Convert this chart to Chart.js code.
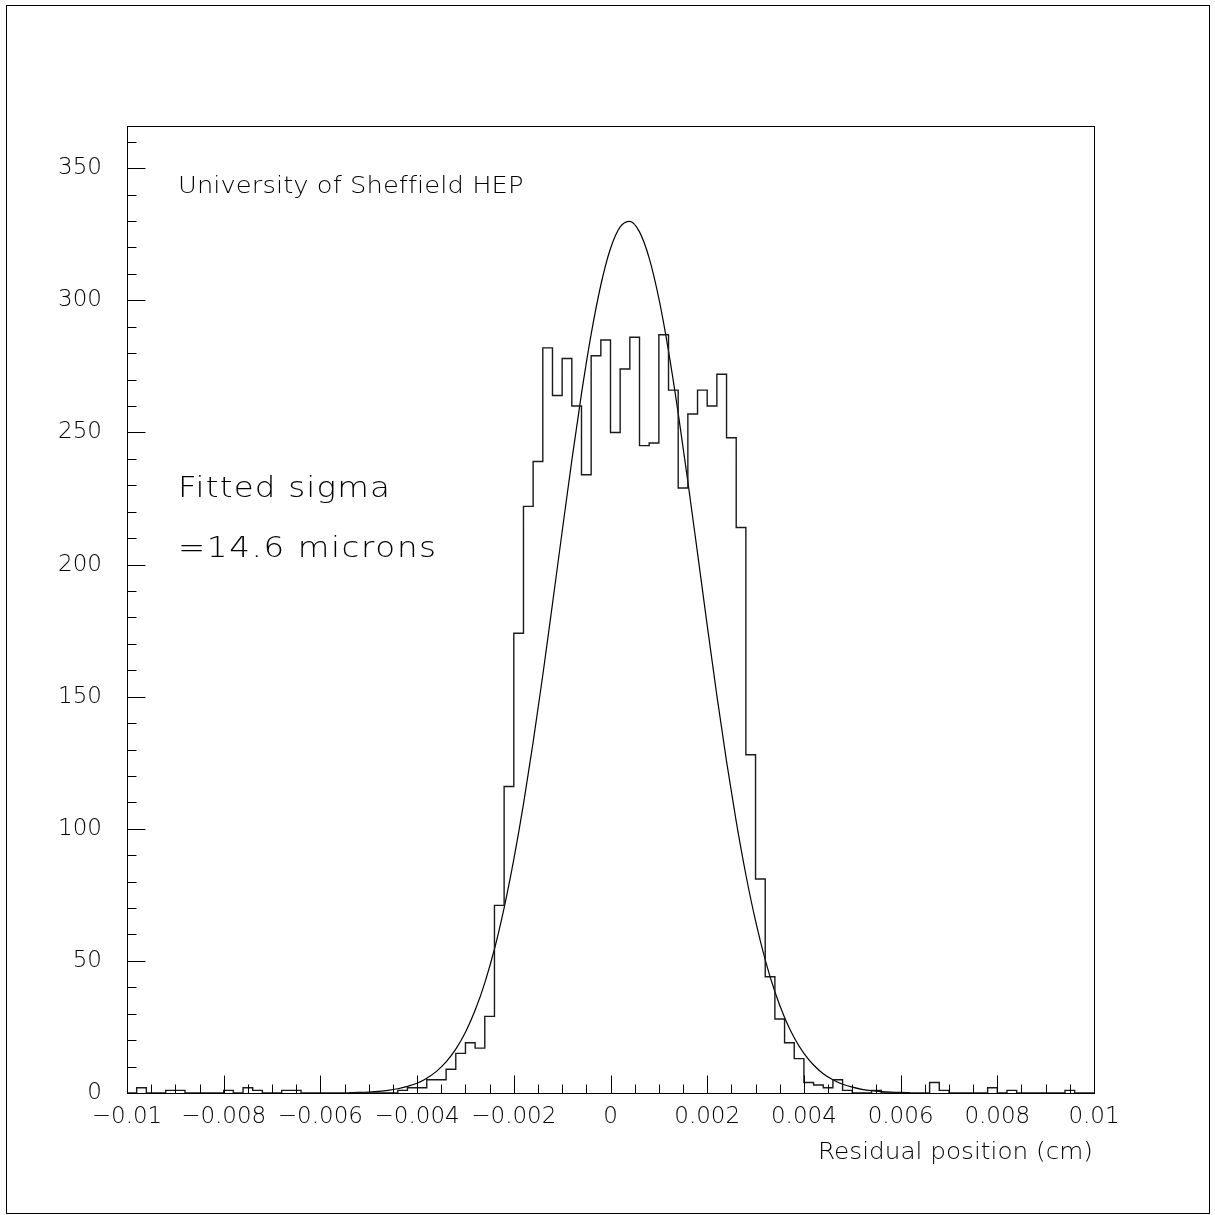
<!DOCTYPE html>
<html><head><meta charset="utf-8">
<script src="https://cdn.jsdelivr.net/npm/chart.js@4"></script>
<style>html,body{margin:0;padding:0;background:#fff}canvas{display:block}</style>
</head><body>
<canvas id="c" width="1215" height="1215"></canvas>
<script>
// ---- data ----
const binLow = -0.01;
const binWidth = 0.0002;
const counts = [
  0, 2, 0, 0, 1, 1, 0, 0, 0, 0,
  1, 0, 2, 1, 0, 0, 1, 1, 0, 0,
  0, 0, 0, 0, 0, 0, 0, 0, 1, 2,
  2, 5, 5, 9, 15, 19, 17, 29, 71, 116,
  174, 222, 239, 282, 264, 278, 260, 234, 279, 285,
  250, 274, 286, 245, 246, 287, 266, 229, 257, 266,
  260, 272, 248, 214, 128, 81, 44, 28, 19, 13,
  4, 3, 2, 5, 1, 0, 0, 1, 0, 0,
  0, 0, 0, 4, 1, 0, 0, 0, 0, 2,
  0, 1, 0, 0, 0, 0, 0, 1, 0, 0
];
const fitX = [
  -0.0054, -0.0052, -0.0050, -0.0048, -0.0046, -0.0044, -0.0042, -0.0040, -0.0038, -0.0036,
  -0.0034, -0.0032, -0.0030, -0.0028, -0.0026, -0.0024, -0.0022, -0.0020, -0.0018, -0.0016,
  -0.0014, -0.0012, -0.0010, -0.0008, -0.0006, -0.0004, -0.0002, 0.0000, 0.0002, 0.0004,
  0.0006, 0.0008, 0.0010, 0.0012, 0.0014, 0.0016, 0.0018, 0.0020, 0.0022, 0.0024,
  0.0026, 0.0028, 0.0030, 0.0032, 0.0034, 0.0036, 0.0038, 0.0040, 0.0042, 0.0044,
  0.0046, 0.0048, 0.0050, 0.0052, 0.0054, 0.0056, 0.0058, 0.0060, 0.0062
];
const fitY = [
  0.13, 0.23, 0.38, 0.62, 1.0, 1.6, 2.5, 3.7, 5.6, 8.2,
  11.8, 16.6, 23.0, 31.3, 41.7, 54.5, 70.1, 88.4, 109.3, 132.8,
  158.2, 185.1, 212.5, 239.4, 264.7, 287.2, 305.8, 319.6, 327.8, 329.9,
  325.9, 316.0, 300.7, 280.8, 257.3, 231.4, 204.3, 177.0, 150.4, 125.5,
  102.8, 82.6, 65.1, 50.4, 38.3, 28.6, 20.9, 15.0, 10.6, 7.3,
  5.0, 3.3, 2.2, 1.4, 0.87, 0.54, 0.33, 0.20, 0.11
];
const xMin = -0.01, xMax = 0.01, xMajor = 0.002, xMinor = 0.0005;
const yMin = 0, yMax = 365.6, yMajor = 50, yMinor = 10;
const labelTop = 'University of Sheffield HEP';
const labelFit1 = 'Fitted sigma';
const labelFit2 = '=14.6 microns';
const xTitle = 'Residual position (cm)';

// ---- build datasets ----
const histPts = counts.map((c, i) => ({x: binLow + i * binWidth, y: c}));
histPts.push({x: binLow + counts.length * binWidth, y: counts[counts.length - 1]});
const fitPts = fitX.map((x, i) => ({x: x, y: fitY[i]}));

const FONT = '"DejaVu Sans", sans-serif';

function fmtX(v) {
  const r = Math.round(v * 1e4) / 1e4;
  if (r === 0) return '0';
  return (r < 0 ? '\u2212' : '') + String(Math.abs(r));
}

// draw text stretched horizontally to the width it has in the reference
function drawWide(ctx, text, x, y, size, targetW, align) {
  ctx.save();
  ctx.font = '200 ' + size + 'px ' + FONT;
  ctx.textBaseline = 'alphabetic';
  ctx.textAlign = 'left';
  const w = ctx.measureText(text).width;
  // split stretch: part scaling, part letter spacing
  const sx = Math.min(targetW / w, 1.12);
  const rest = targetW - w * sx;
  const ls = rest / (text.length - 1) / sx;
  ctx.letterSpacing = ls.toFixed(2) + 'px';
  const startX = align === 'right' ? x - targetW : x;
  ctx.translate(startX, y);
  ctx.scale(sx, 1);
  ctx.fillText(text, 0, 0);
  ctx.restore();
}

const decor = {
  id: 'decor',
  afterDraw(chart) {
    const ctx = chart.ctx;
    const ca = chart.chartArea;
    const xs = chart.scales.x, ys = chart.scales.y;
    ctx.save();
    ctx.strokeStyle = '#000';
    ctx.lineWidth = 1;
    // plot frame
    ctx.strokeRect(ca.left + 0.5, ca.top - 0.5, ca.right - ca.left, ca.bottom - ca.top + 1);
    // y ticks (inside)
    ctx.beginPath();
    for (let v = yMin; v <= yMax + 1e-9; v += yMinor) {
      const py = Math.round(ys.getPixelForValue(v)) + 0.5;
      const len = (Math.round(v) % yMajor === 0) ? 18 : 9;
      ctx.moveTo(ca.left + 0.5, py);
      ctx.lineTo(ca.left + 0.5 + len, py);
    }
    // x ticks (inside)
    const nMinor = Math.round((xMax - xMin) / xMinor);
    const per = Math.round(xMajor / xMinor);
    for (let k = 0; k <= nMinor; k++) {
      const v = xMin + k * xMinor;
      const px = Math.round(xs.getPixelForValue(v)) + 0.5;
      const len = (k % per === 0) ? 18 : 9;
      ctx.moveTo(px, ca.bottom + 0.5);
      ctx.lineTo(px, ca.bottom + 0.5 - len);
    }
    ctx.stroke();
    // outer frame
    ctx.strokeRect(6.5, 5.5, 1203, 1208);
    // texts
    ctx.fillStyle = '#000';
    drawWide(ctx, labelTop, 178, 193, 23, 345, 'left');
    drawWide(ctx, labelFit1, 178, 497, 29, 212, 'left');
    drawWide(ctx, labelFit2, 178, 557, 29, 258, 'left');
    drawWide(ctx, xTitle, 1093, 1159, 23.5, 275, 'right');
    ctx.restore();
  }
};

new Chart(document.getElementById('c'), {
  type: 'line',
  data: {
    datasets: [
      {
        label: 'Residuals',
        data: histPts,
        stepped: 'before',
        borderColor: '#1a1a1a',
        borderWidth: 1.4,
        pointRadius: 0,
        fill: false
      },
      {
        label: 'Gaussian fit',
        data: fitPts,
        borderColor: '#000',
        borderWidth: 1.2,
        pointRadius: 0,
        fill: false,
        cubicInterpolationMode: 'monotone'
      }
    ]
  },
  options: {
    responsive: false,
    animation: false,
    devicePixelRatio: 1,
    layout: {padding: {top: 127, right: 121, left: 0, bottom: 0}},
    plugins: {legend: {display: false}, tooltip: {enabled: false}, title: {display: false}},
    scales: {
      x: {
        type: 'linear',
        min: xMin, max: xMax,
        grid: {display: false, drawTicks: false},
        border: {display: false},
        afterFit(s) { s.height = 122; },
        ticks: {
          stepSize: xMajor,
          autoSkip: false,
          maxRotation: 0,
          minRotation: 0,
          includeBounds: false,
          padding: 10,
          color: '#000',
          font: {family: FONT, size: 23, weight: '200'},
          callback: (v) => fmtX(v)
        }
      },
      y: {
        type: 'linear',
        min: yMin, max: yMax,
        grid: {display: false, drawTicks: false},
        border: {display: false},
        afterFit(s) { s.width = 127; },
        ticks: {
          stepSize: yMajor,
          includeBounds: false,
          padding: 25,
          color: '#000',
          font: {family: FONT, size: 23, weight: '200'},
          callback: (v) => String(Math.round(v))
        }
      }
    }
  },
  plugins: [decor]
});
</script>
</body></html>
